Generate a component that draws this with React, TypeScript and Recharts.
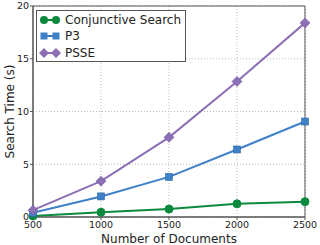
import React from "react";
import {
  LineChart,
  Line,
  XAxis,
  YAxis,
  CartesianGrid,
  ReferenceArea,
} from "recharts";

const docs = [500, 1000, 1500, 2000, 2500];
const conjunctive = [0.1, 0.45, 0.75, 1.25, 1.45];
const p3 = [0.4, 1.95, 3.8, 6.4, 9.05];
const psse = [0.65, 3.4, 7.55, 12.85, 18.4];
const yTicks = [0, 5, 10, 15, 20];

const data = docs.map((d, i) => ({
  docs: d,
  conjunctive: conjunctive[i],
  p3: p3[i],
  psse: psse[i],
}));

const GREEN = "#0b8a3e";
const BLUE = "#3f81c8";
const PURPLE = "#8c6fb4";
const FONT = "DejaVu Sans";

const Circle = (props: any) => {
  const { cx, cy, key } = props;
  return <circle key={key} cx={cx} cy={cy} r={4} fill={GREEN} stroke={GREEN} />;
};
const Square = (props: any) => {
  const { cx, cy, key } = props;
  return <rect key={key} x={cx - 3.5} y={cy - 3.5} width={7} height={7} fill={BLUE} stroke="#2d6aa8" strokeWidth={0.6} />;
};
const Diamond = (props: any) => {
  const { cx, cy, key } = props;
  return (
    <polygon
      key={key}
      points={`${cx},${cy - 5} ${cx + 5},${cy} ${cx},${cy + 5} ${cx - 5},${cy}`}
      fill={PURPLE}
      stroke="#7a5ca3"
      strokeWidth={0.6}
    />
  );
};

const legendItems = [
  { name: "Conjunctive Search", color: GREEN, shape: "circle" },
  { name: "P3", color: BLUE, shape: "square" },
  { name: "PSSE", color: PURPLE, shape: "diamond" },
];

const marker = (shape: string, color: string, x: number, y: number) => {
  if (shape === "circle") return <circle cx={x} cy={y} r={4} fill={color} />;
  if (shape === "square") return <rect x={x - 3.5} y={y - 3.5} width={7} height={7} fill={color} />;
  return <polygon points={`${x},${y - 5} ${x + 5},${y} ${x},${y + 5} ${x - 5},${y}`} fill={color} />;
};

const LegendBox = () => (
  <div
    style={{
      position: "absolute",
      left: 36,
      top: 10,
      border: "1px solid #555",
      background: "#fff",
      width: 150,
      height: 52,
      boxSizing: "border-box",
      paddingTop: 1,
    }}
  >
    {legendItems.map((it) => (
      <div key={it.name} style={{ display: "flex", alignItems: "center", height: 16.3 }}>
        <svg width={27} height={14} style={{ marginLeft: 1 }}>
          <line x1={6} y1={7} x2={18} y2={7} stroke={it.color} strokeWidth={2} />
          {marker(it.shape, it.color, 6, 7)}
          {marker(it.shape, it.color, 18, 7)}
        </svg>
        <span style={{ fontFamily: FONT, fontSize: 12, color: "#222", lineHeight: "14px" }}>{it.name}</span>
      </div>
    ))}
  </div>
);

export default function App() {
  return (
    <div style={{ position: "absolute", left: 0, top: 0, width: 320, height: 245, background: "#fff" }}>
      <LineChart
        width={320}
        height={245}
        data={data}
        margin={{ top: 6, right: 15, left: 0, bottom: 0 }}
      >
        <CartesianGrid stroke="#bbb" strokeDasharray="1 2" />
        <XAxis
          dataKey="docs"
          type="number"
          domain={[500, 2500]}
          ticks={docs}
          height={28}
          stroke="#555"
          tickSize={3}
          tickMargin={1}
          tick={{ fontFamily: FONT, fontSize: 9.5, fill: "#222" }}
          label={{
            value: "Number of Documents",
            position: "insideBottom",
            offset: 2,
            style: { fontFamily: FONT, fontSize: 12, fill: "#222" },
          }}
        />
        <YAxis
          type="number"
          domain={[0, 20]}
          ticks={yTicks}
          width={33}
          stroke="#555"
          tickSize={3}
          tickMargin={1}
          tick={{ fontFamily: FONT, fontSize: 9.5, fill: "#222" }}
          label={{
            value: "Search Time (s)",
            angle: -90,
            position: "insideLeft",
            offset: 10,
            style: { fontFamily: FONT, fontSize: 12, fill: "#222", textAnchor: "middle" },
          }}
        />
        <ReferenceArea x1={500} x2={2500} y1={0} y2={20} fill="none" stroke="#555" strokeWidth={1} />
        <Line dataKey="conjunctive" stroke={GREEN} strokeWidth={2} dot={Circle} isAnimationActive={false} />
        <Line dataKey="p3" stroke={BLUE} strokeWidth={2} dot={Square} isAnimationActive={false} />
        <Line dataKey="psse" stroke={PURPLE} strokeWidth={2} dot={Diamond} isAnimationActive={false} />
      </LineChart>
      <LegendBox />
    </div>
  );
}
